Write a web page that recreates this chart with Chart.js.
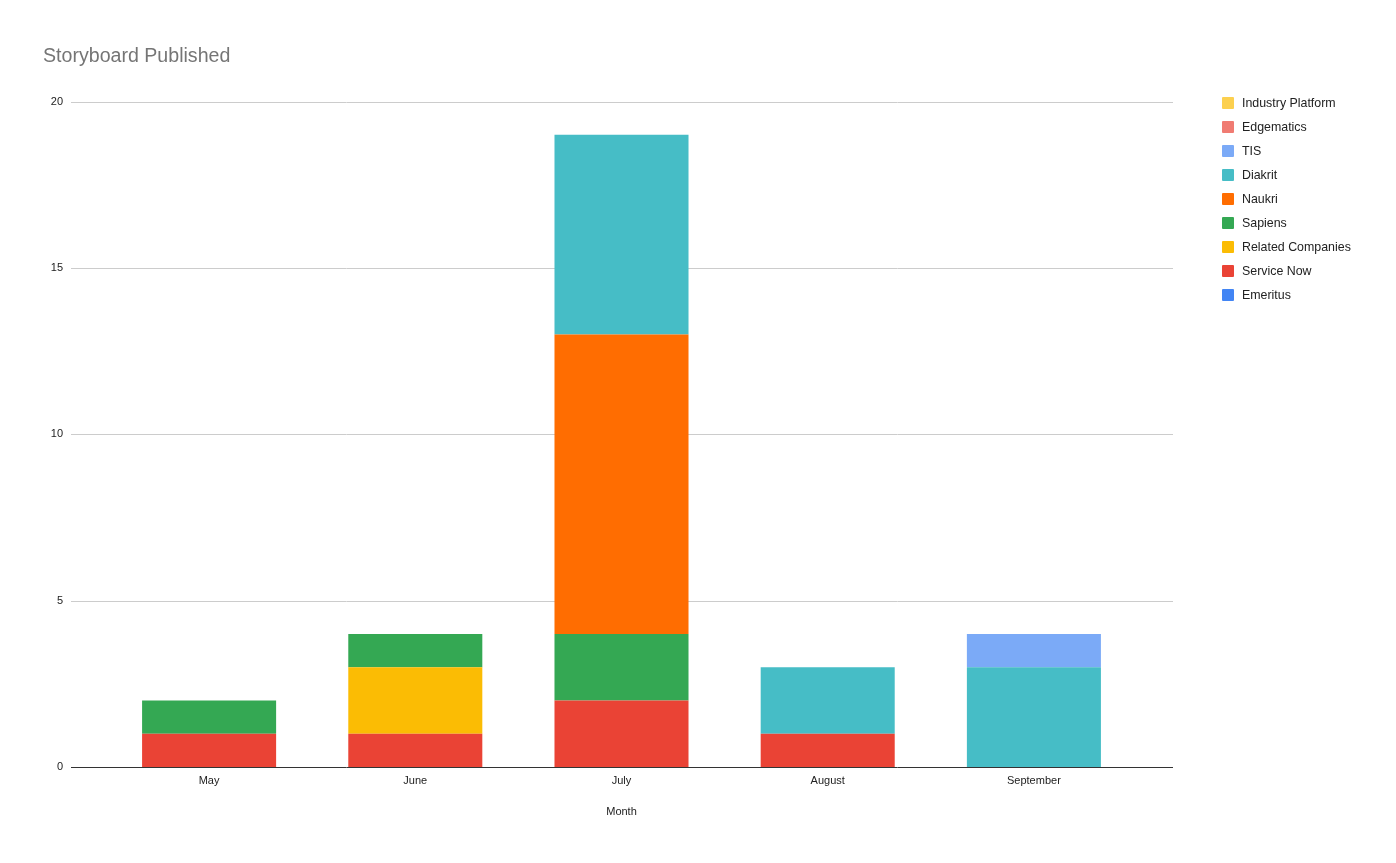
<!DOCTYPE html>
<html>
<head>
<meta charset="utf-8">
<script src="https://cdn.jsdelivr.net/npm/chart.js@4"></script>
<style>
  html, body { margin:0; padding:0; background:#fff; }
  #wrap { position:relative; width:1396px; height:863px; }
  #legend { position:absolute; left:1222px; top:91px; font-family:"Liberation Sans", Arial, sans-serif; font-size:12.4px; color:#222; }
  .item { height:24px; display:flex; align-items:center; }
  .sw { width:12px; height:12px; margin-right:8px; border-radius:1px; }
</style>
</head>
<body>
<div id="wrap">
  <canvas id="c" width="1396" height="863"></canvas>
  <div id="legend"></div>
</div>
<script>
const months = ["May", "June", "July", "August", "September"];
const seriesNames = ["Emeritus", "Service Now", "Related Companies", "Sapiens", "Naukri", "Diakrit", "TIS", "Edgematics", "Industry Platform"];
const emeritus         = [0, 0, 0, 0, 0];
const serviceNow       = [1, 1, 2, 1, 0];
const relatedCompanies = [0, 2, 0, 0, 0];
const sapiens          = [1, 1, 2, 0, 0];
const naukri           = [0, 0, 9, 0, 0];
const diakrit          = [0, 0, 6, 2, 3];
const tis              = [0, 0, 0, 0, 1];
const edgematics       = [0, 0, 0, 0, 0];
const industryPlatform = [0, 0, 0, 0, 0];
const yTicks = [0, 5, 10, 15, 20];

const seriesValues = [emeritus, serviceNow, relatedCompanies, sapiens, naukri, diakrit, tis, edgematics, industryPlatform];
const colors = ["#4285F4", "#EA4335", "#FBBC04", "#34A853", "#FF6D01", "#46BDC6", "#7BAAF7", "#F07B72", "#FCD04F"];

const FONT = "'Liberation Sans', Arial, sans-serif";
const GRID_LEFT = 71, GRID_RIGHT = 1173;

const datasets = seriesNames.map((n, i) => ({
  label: n,
  data: seriesValues[i],
  backgroundColor: colors[i],
  borderWidth: 0,
  categoryPercentage: 0.65,
  barPercentage: 1.0
}));

new Chart(document.getElementById('c'), {
  type: 'bar',
  data: { labels: months, datasets },
  options: {
    responsive: false,
    animation: false,
    devicePixelRatio: 1,
    layout: { padding: { left: 43, right: 259, top: 45, bottom: 36 } },
    plugins: {
      legend: { display: false },
      tooltip: { enabled: false },
      title: {
        display: true,
        text: "Storyboard Published",
        align: 'start',
        color: '#757575',
        font: { family: FONT, size: 19.6, weight: 'normal', lineHeight: 1.2 },
        padding: { top: 0, bottom: 33 }
      }
    },
    scales: {
      x: {
        stacked: true,
        grid: { display: false, drawTicks: false },
        border: { display: false },
        ticks: { color: '#222', font: { family: FONT, size: 11 }, padding: 7 },
        title: { display: true, text: "Month", color: '#222', font: { family: FONT, size: 11 }, padding: { top: 0, bottom: 8 } },
        afterFit: s => { s.height = 60; }
      },
      y: {
        stacked: true,
        min: 0, max: 20,
        afterBuildTicks: s => { s.ticks = yTicks.map(v => ({ value: v })); },
        grid: { display: false, drawTicks: false },
        border: { display: false },
        ticks: { color: '#222', font: { family: FONT, size: 11 }, padding: 43 },
        afterFit: s => { s.width = 63; }
      }
    }
  },
  plugins: [{
    id: 'wideGrid',
    beforeDatasetsDraw(chart) {
      const { ctx, scales } = chart;
      ctx.save();
      ctx.lineWidth = 1;
      scales.y.ticks.forEach(t => {
        if (t.value === 0) return;
        const y = Math.round(scales.y.getPixelForValue(t.value)) + 0.5;
        ctx.strokeStyle = '#cccccc';
        ctx.beginPath();
        ctx.moveTo(GRID_LEFT, y);
        ctx.lineTo(GRID_RIGHT, y);
        ctx.stroke();
      });
      ctx.restore();
    },
    afterDatasetsDraw(chart) {
      const { ctx, scales } = chart;
      const y = Math.round(scales.y.getPixelForValue(0)) + 0.5;
      ctx.save();
      ctx.strokeStyle = '#333333';
      ctx.lineWidth = 1;
      ctx.beginPath();
      ctx.moveTo(GRID_LEFT, y);
      ctx.lineTo(GRID_RIGHT, y);
      ctx.stroke();
      ctx.restore();
    }
  }]
});

const lg = document.getElementById('legend');
for (let i = seriesNames.length - 1; i >= 0; i--) {
  const d = document.createElement('div');
  d.className = 'item';
  const sw = document.createElement('span');
  sw.className = 'sw';
  sw.style.background = colors[i];
  const t = document.createElement('span');
  t.textContent = seriesNames[i];
  d.appendChild(sw); d.appendChild(t);
  lg.appendChild(d);
}
</script>
</body>
</html>
